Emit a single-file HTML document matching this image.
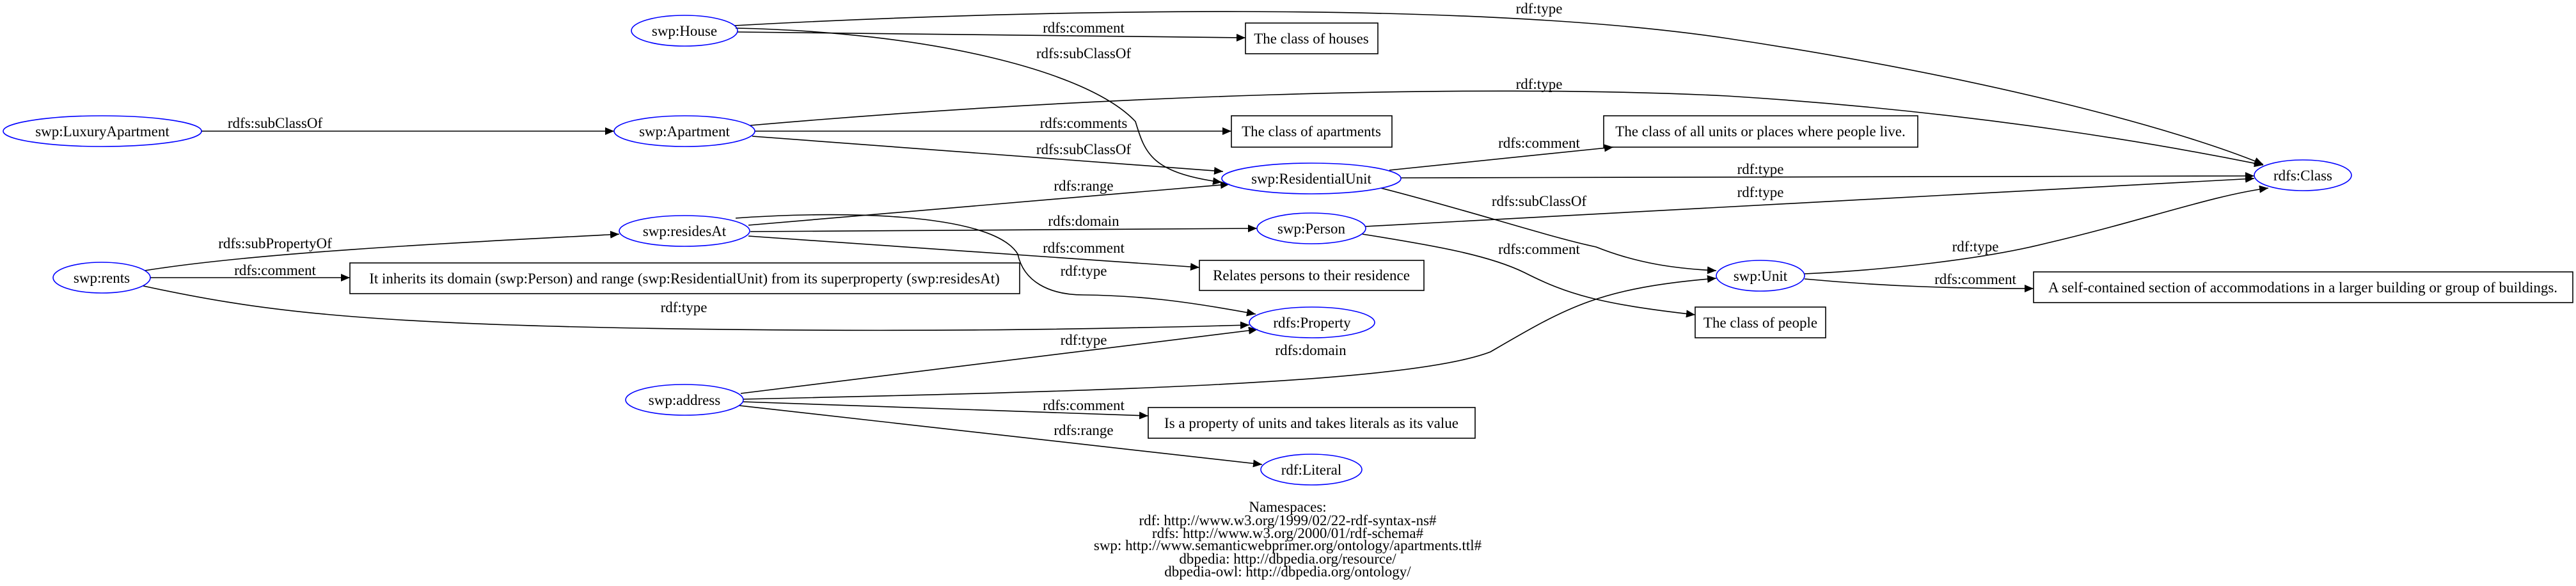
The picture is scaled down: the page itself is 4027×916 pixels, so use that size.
<!DOCTYPE html>
<html><head><meta charset="utf-8"><style>
html,body{margin:0;padding:0;background:#fff;}
svg{display:block;}
text{font-family:"Liberation Serif",serif;font-size:23px;fill:#000;}
</style></head><body>
<svg width="4027" height="916" viewBox="0 0 4027 916" xmlns="http://www.w3.org/2000/svg">
<defs>
<marker id="a" markerUnits="userSpaceOnUse" markerWidth="16" markerHeight="12" refX="14" refY="6" orient="auto">
<path d="M0,0 L14,6 L0,12 Z" fill="#000"/>
</marker>
</defs>
<g fill="none" stroke="#000" stroke-width="1.6" marker-end="url(#a)">
<!-- House -->
<path d="M1148,40 C1600,15 2300,0 2700,60 C3100,120 3400,200 3538,257"/>
<path d="M1153,50 L1947,59"/>
<path d="M1150,44 C1450,50 1700,110 1775,190 C1790,240 1800,270 1910,285"/>
<!-- Lux -->
<path d="M314,205 L960,205"/>
<!-- Apartment -->
<path d="M1173,196 C1700,150 2300,130 2700,150 C3100,175 3400,230 3538,258"/>
<path d="M1180,205 L1925,205"/>
<path d="M1176,213 L1912,268"/>
<!-- ResidentialUnit -->
<path d="M2172,266 L2522,230"/>
<path d="M2190,278 L3524,275"/>
<path d="M2159,294 C2300,330 2420,370 2495,386 C2560,412 2620,420 2683,423"/>
<!-- residesAt -->
<path d="M1170,352 L1922,288"/>
<path d="M1150,341 C1300,330 1550,330 1591,397 C1600,440 1640,461 1694,461 C1780,462 1850,470 1963,491"/>
<path d="M1173,362 L1965,357"/>
<path d="M1170,369 L1875,418"/>
<!-- Person -->
<path d="M2134,354 L3524,279"/>
<path d="M2130,366 C2250,385 2330,400 2383,426 C2450,460 2500,475 2650,492"/>
<!-- Unit -->
<path d="M2821,428 C2950,422 3100,405 3200,380 C3350,345 3460,305 3546,294"/>
<path d="M2821,436 C2950,448 3060,451 3179,451"/>
<!-- rents -->
<path d="M226,423 C400,395 700,380 968,366"/>
<path d="M235,434 L547,434"/>
<path d="M224,447 C400,485 550,505 1000,513 C1400,520 1700,515 1953,508"/>
<!-- address -->
<path d="M1158,615 L1966,515"/>
<path d="M1161,624 C1700,612 2200,600 2330,550 C2450,480 2500,450 2683,435"/>
<path d="M1161,628 L1795,650"/>
<path d="M1156,634 L1973,726"/>
</g>
<g fill="none" stroke="#0000ff" stroke-width="1.6">
<ellipse cx="1070" cy="48" rx="83" ry="24"/>
<ellipse cx="160" cy="205" rx="155" ry="24"/>
<ellipse cx="1070" cy="205" rx="110" ry="24"/>
<ellipse cx="1070" cy="361" rx="102" ry="24"/>
<ellipse cx="159" cy="434" rx="76" ry="24"/>
<ellipse cx="1070" cy="625" rx="92" ry="24"/>
<ellipse cx="2050" cy="279" rx="140" ry="24"/>
<ellipse cx="2050" cy="357" rx="85" ry="24"/>
<ellipse cx="2051" cy="504" rx="98" ry="24"/>
<ellipse cx="2050" cy="734" rx="79" ry="24"/>
<ellipse cx="3600" cy="274" rx="76" ry="24"/>
<ellipse cx="2752" cy="431" rx="69" ry="24"/>
</g>
<g fill="none" stroke="#000" stroke-width="1.6">
<rect x="1947" y="36" width="207" height="48"/>
<rect x="1925" y="181" width="251" height="49"/>
<rect x="2507" y="181" width="491" height="49"/>
<rect x="547" y="411" width="1047" height="48"/>
<rect x="1875" y="407" width="351" height="47"/>
<rect x="2650" y="480" width="204" height="48"/>
<rect x="3179" y="425" width="843" height="48"/>
<rect x="1795" y="637" width="511" height="48"/>
</g>
<g text-anchor="middle">
<text x="1070" y="56">swp:House</text>
<text x="160" y="213">swp:LuxuryApartment</text>
<text x="1070" y="213">swp:Apartment</text>
<text x="1070" y="369">swp:residesAt</text>
<text x="159" y="442">swp:rents</text>
<text x="1070" y="633">swp:address</text>
<text x="2050" y="287">swp:ResidentialUnit</text>
<text x="2050" y="365">swp:Person</text>
<text x="2051" y="512">rdfs:Property</text>
<text x="2050" y="742">rdf:Literal</text>
<text x="3600" y="282">rdfs:Class</text>
<text x="2752" y="439">swp:Unit</text>

<text x="2050" y="68">The class of houses</text>
<text x="2050" y="213">The class of apartments</text>
<text x="2752" y="213">The class of all units or places where people live.</text>
<text x="1070" y="443">It inherits its domain (swp:Person) and range (swp:ResidentialUnit) from its superproperty (swp:residesAt)</text>
<text x="2050" y="438">Relates persons to their residence</text>
<text x="2752" y="512">The class of people</text>
<text x="3600" y="457">A self-contained section of accommodations in a larger building or group of buildings.</text>
<text x="2050" y="669">Is a property of units and takes literals as its value</text>

<text x="2406" y="21">rdf:type</text>
<text x="1694" y="51">rdfs:comment</text>
<text x="1694" y="91">rdfs:subClassOf</text>
<text x="2406" y="139">rdf:type</text>
<text x="430" y="200">rdfs:subClassOf</text>
<text x="1694" y="200">rdfs:comments</text>
<text x="2406" y="231">rdfs:comment</text>
<text x="1694" y="241">rdfs:subClassOf</text>
<text x="2752" y="272">rdf:type</text>
<text x="1694" y="298">rdfs:range</text>
<text x="2752" y="308">rdf:type</text>
<text x="2406" y="322">rdfs:subClassOf</text>
<text x="1694" y="353">rdfs:domain</text>
<text x="430" y="388">rdfs:subPropertyOf</text>
<text x="1694" y="395">rdfs:comment</text>
<text x="2406" y="397">rdfs:comment</text>
<text x="3088" y="393">rdf:type</text>
<text x="430" y="430">rdfs:comment</text>
<text x="1694" y="431">rdf:type</text>
<text x="3088" y="444">rdfs:comment</text>
<text x="1069" y="488">rdf:type</text>
<text x="1694" y="539">rdf:type</text>
<text x="2049" y="555">rdfs:domain</text>
<text x="1694" y="641">rdfs:comment</text>
<text x="1694" y="680">rdfs:range</text>

<text x="2013" y="800">Namespaces:</text>
<text x="2013" y="821">rdf: http://www.w3.org/1999/02/22-rdf-syntax-ns#</text>
<text x="2013" y="841">rdfs: http://www.w3.org/2000/01/rdf-schema#</text>
<text x="2013" y="860">swp: http://www.semanticwebprimer.org/ontology/apartments.ttl#</text>
<text x="2013" y="881">dbpedia: http://dbpedia.org/resource/</text>
<text x="2013" y="901">dbpedia-owl: http://dbpedia.org/ontology/</text>
</g>
</svg>
</body></html>
